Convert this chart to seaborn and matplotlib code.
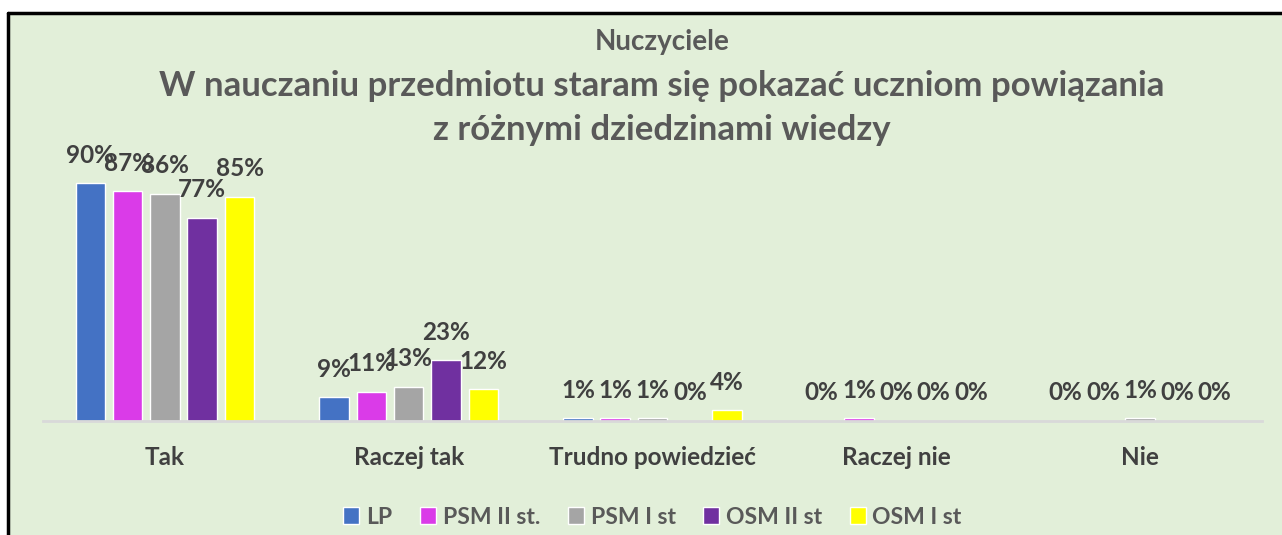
import pandas as pd
import matplotlib.pyplot as plt
import seaborn as sns
from matplotlib.patches import Rectangle

categories = ['Tak', 'Raczej tak', 'Trudno powiedzieć', 'Raczej nie', 'Nie']
series = ['LP', 'PSM II st.', 'PSM I st', 'OSM II st', 'OSM I st']
lp = [90, 9, 1, 0, 0]
psm2 = [87, 11, 1, 1, 0]
psm1 = [86, 13, 1, 0, 1]
osm2 = [77, 23, 0, 0, 0]
osm1 = [85, 12, 4, 0, 0]
colors = ['#4472C4', '#DA3BE8', '#A5A5A5', '#7030A0', '#FFFF00']

rows = []
for name, vals in zip(series, [lp, psm2, psm1, osm2, osm1]):
    for cat, v in zip(categories, vals):
        rows.append({'kategoria': cat, 'grupa': name, 'wartosc': v})
df = pd.DataFrame(rows)

sns.set_style('white')
plt.rcParams['font.family'] = ['Lato', 'DejaVu Sans']

bg = '#E2EFD9'
fig = plt.figure(figsize=(12.82, 5.35), dpi=100)
fig.patch.set_facecolor('white')
# green chart panel with black top/left frame
fig.patches.append(Rectangle((8 / 1282, 0), 1, 1 - 13 / 535, transform=fig.transFigure,
                             facecolor=bg, edgecolor='none', zorder=-5))
fig.add_artist(plt.Line2D([8 / 1282, 1], [1 - 13 / 535] * 2, color='black', lw=2.5, zorder=-4))
fig.add_artist(plt.Line2D([8 / 1282] * 2, [0, 1 - 13 / 535], color='black', lw=2.5, zorder=-4))

ax = fig.add_axes([43 / 1282, 114 / 535, 1219 / 1282, 264 / 535])
ax.set_zorder(2)
ax.set_facecolor('none')
sns.barplot(data=df, x='kategoria', y='wartosc', hue='grupa', palette=colors,
            width=0.765, gap=0.21, ax=ax, legend=True, saturation=1)
ax.set_ylim(0, 100)
ax.set_yticks([])
ax.set_xlabel('')
ax.set_ylabel('')
for s in ['top', 'right', 'left']:
    ax.spines[s].set_visible(False)
ax.spines['bottom'].set_color('#D9D9D9')
ax.spines['bottom'].set_linewidth(2)
ax.tick_params(axis='x', length=0, pad=18, labelsize=17.5, labelcolor='#404040')
for lbl in ax.get_xticklabels():
    lbl.set_fontweight('bold')

for cont in ax.containers:
    ax.bar_label(cont, labels=[f'{int(v)}%' for v in cont.datavalues], padding=12,
                 fontsize=17.5, fontweight='bold', color='#404040')

ax.legend(loc='center', bbox_to_anchor=(0.5, (18 - 114) / 264), ncol=5, frameon=False,
          handlelength=0.7, handleheight=0.7, handletextpad=0.3, columnspacing=1.2,
          prop={'weight': 'bold', 'size': 16.5}, labelcolor='#595959')

fig.text(662 / 1282, 1 - 42 / 535, 'Nuczyciele', ha='center', va='center',
         fontsize=20, fontweight='bold', color='#595959')
fig.text(662 / 1282, 1 - 86 / 535, 'W nauczaniu przedmiotu staram się pokazać uczniom powiązania',
         ha='center', va='center', fontsize=25, fontweight='bold', color='#595959')
fig.text(662 / 1282, 1 - 130 / 535, 'z różnymi dziedzinami wiedzy',
         ha='center', va='center', fontsize=25, fontweight='bold', color='#595959')

fig.savefig('out.png', dpi=100, facecolor=fig.get_facecolor())
